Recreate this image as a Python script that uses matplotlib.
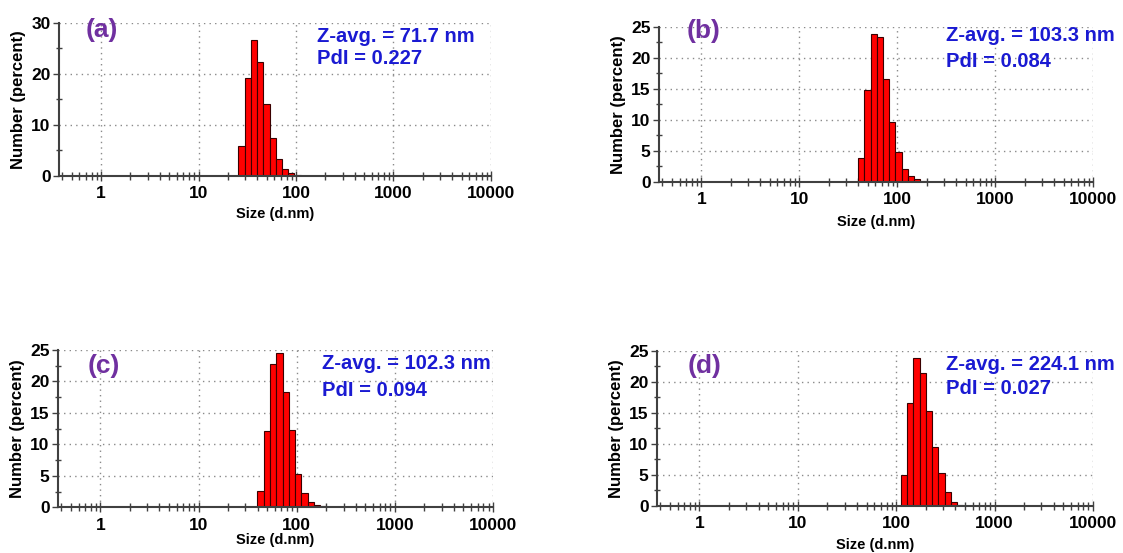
import numpy as np
import matplotlib
matplotlib.use("Agg")
import matplotlib.pyplot as plt
import matplotlib.ticker as plticker

plt.rcParams['font.family'] = ['Liberation Sans', 'DejaVu Sans']
plt.rcParams['font.weight'] = 'bold'

# size class edges (d.nm)
edges = [25.7, 29.8, 34.5, 39.9, 46.2, 53.5, 62.0, 71.8, 83.1, 96.2, 111.4,
         129.0, 149.4, 173.0, 200.3, 232.0, 268.6, 311.1, 360.2, 417.2, 483.1, 559.4]

# number (percent) per class, first class index for each sample
a_start = 0
a_vals = [5.8, 19.1, 26.6, 22.2, 14.0, 7.3, 3.2, 1.3, 0.5, 0.15]
b_start = 3
b_vals = [3.9, 14.8, 23.8, 23.4, 16.6, 9.6, 4.8, 2.1, 0.9, 0.4, 0.15]
c_start = 3
c_vals = [2.6, 12.2, 22.8, 24.5, 18.3, 12.3, 5.3, 2.3, 0.9, 0.37, 0.15]
d_start = 10
d_vals = [5.0, 16.6, 23.8, 21.4, 15.3, 9.5, 5.3, 2.2, 0.65, 0.2]

labels = ["(a)", "(b)", "(c)", "(d)"]
zavg = ["Z-avg. = 71.7 nm", "Z-avg. = 103.3 nm", "Z-avg. = 102.3 nm", "Z-avg. = 224.1 nm"]
pdi = ["PdI = 0.227", "PdI = 0.084", "PdI = 0.094", "PdI = 0.027"]
ymax = [30, 25, 25, 25]
ystep = [10, 5, 5, 5]
xticks = [1, 10, 100, 1000, 10000]
xticklabels = ["1", "10", "100", "1000", "10000"]

fig = plt.figure(figsize=(11.23, 5.53), dpi=100)
rects = [[0.0525, 0.6823, 0.3847, 0.2767],
         [0.5868, 0.6714, 0.3865, 0.2803],
         [0.0516, 0.0826, 0.3874, 0.2845],
         [0.5850, 0.0850, 0.3882, 0.2810]]
starts = [a_start, b_start, c_start, d_start]
vals = [a_vals, b_vals, c_vals, d_vals]
# text placement (axes fraction)
txt_x = [0.597, 0.661, 0.608, 0.662]
txt_y1 = [0.872, 0.906, 0.877, 0.874]
txt_y2 = [0.727, 0.740, 0.708, 0.719]
lab_xy = [(0.0625, 0.949), (0.0645, 0.974), (0.069, 0.898), (0.071, 0.900)]
xpads = [4, 6, 0.5, 5]

axline = '#404040'
for k in range(4):
    ax = fig.add_axes(rects[k])
    e = np.array(edges[starts[k]:starts[k] + len(vals[k]) + 1])
    ax.bar(e[:-1], vals[k], width=np.diff(e), align='edge',
           color='#ff0000', edgecolor='#3a0000', linewidth=0.8, zorder=3)
    ax.set_xscale('log')
    ax.set_xlim(0.37, 10000)
    ax.set_ylim(0, ymax[k])
    ax.set_xticks(xticks)
    ax.set_xticklabels(xticklabels)
    ax.xaxis.set_minor_locator(plticker.LogLocator(base=10, subs=np.arange(2, 10)))
    ax.xaxis.set_minor_formatter(plticker.NullFormatter())
    ax.yaxis.set_major_locator(plticker.MultipleLocator(ystep[k]))
    ax.yaxis.set_minor_locator(plticker.MultipleLocator(ystep[k] / 2))
    for s in ['top', 'right']:
        ax.spines[s].set_visible(False)
    for s in ['left', 'bottom']:
        ax.spines[s].set_color(axline)
        ax.spines[s].set_linewidth(1.5)
        ax.spines[s].set_zorder(4)
    ax.grid(True, which='major', linestyle=(0, (1, 3)), color='#8a8a8a', linewidth=1.0)
    ax.tick_params(axis='x', which='both', direction='inout', color=axline, width=1)
    ax.tick_params(axis='x', which='major', length=7, labelsize=12.5, pad=4)
    ax.tick_params(axis='x', which='minor', length=6)
    ax.tick_params(axis='y', which='major', direction='out', length=4, color=axline,
                   width=1, labelsize=12.5, pad=2)
    ax.tick_params(axis='y', which='minor', direction='inout', length=5, color=axline, width=1)
    ax.set_ylabel("Number (percent)", fontsize=12, fontweight='bold', labelpad=4)
    ax.set_xlabel("Size (d.nm)", fontsize=10.5, fontweight='bold', labelpad=xpads[k])
    ax.text(txt_x[k], txt_y1[k], zavg[k], transform=ax.transAxes, fontsize=14.5,
            fontweight='bold', color='#1a1ad2', ha='left', va='baseline', zorder=5)
    ax.text(txt_x[k], txt_y2[k], pdi[k], transform=ax.transAxes, fontsize=14.5,
            fontweight='bold', color='#1a1ad2', ha='left', va='baseline', zorder=5)
    ax.text(lab_xy[k][0], lab_xy[k][1], labels[k], transform=ax.transAxes, fontsize=19,
            fontweight='bold', color='#7030a0', ha='left', va='center', zorder=5)

fig.savefig("out.png", dpi=100)
